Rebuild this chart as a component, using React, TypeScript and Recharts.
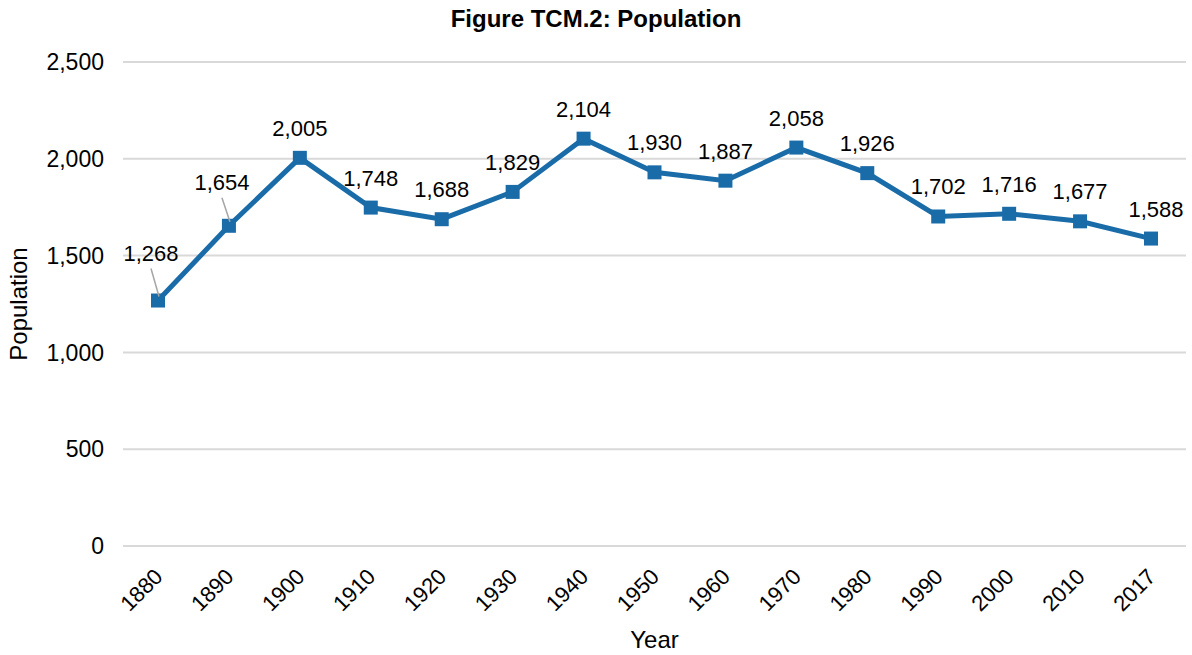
import React from "react";
import { LineChart, Line, XAxis, YAxis, CartesianGrid, LabelList } from "recharts";

const years = ["1880", "1890", "1900", "1910", "1920", "1930", "1940", "1950", "1960", "1970", "1980", "1990", "2000", "2010", "2017"];
const population = [1268, 1654, 2005, 1748, 1688, 1829, 2104, 1930, 1887, 2058, 1926, 1702, 1716, 1677, 1588];
const yTicks = [0, 500, 1000, 1500, 2000, 2500];

const data = years.map((year, i) => ({ year, population: population[i] }));

const BLUE = "#1A6CA9";
const FONT = "'Liberation Sans', Arial, sans-serif";
const fmt = (v: number) => v.toLocaleString("en-US");

// first two labels sit up-left of the point with a leader line
const labelShift: Record<number, { dx: number; dy: number }> = {
  0: { dx: -7, dy: -40 },
  1: { dx: -7, dy: -36 },
};

const PointLabel = (props: any) => {
  const { x, y, value, index } = props;
  const s = labelShift[index];
  if (s) {
    return (
      <g>
        <line x1={x + s.dx} y1={y + s.dy + 8} x2={x + 1} y2={y - 4} stroke="#a6a6a6" strokeWidth={1.5} />
        <text x={x + s.dx} y={y + s.dy} textAnchor="middle" fontSize={22} fill="#000" fontFamily={FONT}>
          {fmt(value)}
        </text>
      </g>
    );
  }
  const dx = index === years.length - 1 ? 5 : 0;
  return (
    <text x={x + dx} y={y - 22} textAnchor="middle" fontSize={22} fill="#000" fontFamily={FONT}>
      {fmt(value)}
    </text>
  );
};

const SquareDot = (props: any) => {
  const { cx, cy } = props;
  return <rect x={cx - 7} y={cy - 7} width={14} height={14} fill={BLUE} />;
};

const YearTick = (props: any) => {
  const { x, y, payload } = props;
  const ax = x + 6;
  const ay = y + 24;
  return (
    <text x={ax} y={ay} transform={`rotate(-45, ${ax}, ${ay})`} textAnchor="end" fontSize={22} fill="#000" fontFamily={FONT}>
      {payload.value}
    </text>
  );
};

export default function App() {
  return (
    <div style={{ position: "absolute", left: 0, top: 0, width: 1192, height: 655, background: "#fff", fontFamily: FONT }}>
      <div style={{ position: "absolute", left: 0, width: 1192, top: 5, textAlign: "center", fontSize: 24, fontWeight: "bold" }}>
        Figure TCM.2: Population
      </div>
      <LineChart width={1192} height={655} data={data} margin={{ top: 62, right: 6, bottom: 2, left: 0 }}>
        <CartesianGrid horizontal vertical={false} stroke="#d9d9d9" strokeWidth={2} />
        <XAxis
          dataKey="year"
          axisLine={false}
          tickLine={false}
          tick={<YearTick />}
          interval={0}
          height={107}
          padding={{ left: 35, right: 35 }}
          label={{ value: "Year", position: "insideBottom", offset: 5, fontSize: 24, fill: "#000", fontFamily: FONT }}
        />
        <YAxis
          domain={[0, 2500]}
          ticks={yTicks}
          axisLine={false}
          tickLine={false}
          tickMargin={13}
          width={123}
          tickFormatter={fmt}
          tick={{ fontSize: 23, fill: "#000", fontFamily: FONT }}
          label={{ value: "Population", angle: -90, position: "insideLeft", offset: 18, fontSize: 24, fill: "#000", fontFamily: FONT, style: { textAnchor: "middle" } }}
        />
        <Line
          type="linear"
          dataKey="population"
          stroke={BLUE}
          strokeWidth={5}
          dot={<SquareDot />}
          activeDot={false}
          isAnimationActive={false}
        >
          <LabelList dataKey="population" content={<PointLabel />} />
        </Line>
      </LineChart>
    </div>
  );
}
